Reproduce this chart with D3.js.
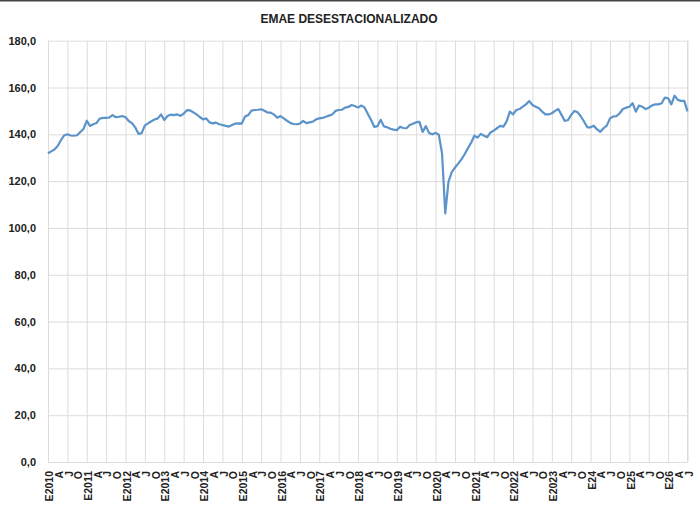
<!DOCTYPE html>
<html>
<head>
<meta charset="utf-8">
<script src="https://cdn.jsdelivr.net/npm/d3@7/dist/d3.min.js"></script>
<style>
  body { margin: 0; background: #fff; }
  text { font-family: "Liberation Sans", Arial, sans-serif; font-weight: bold; fill: #222; }
</style>
</head>
<body>
<script>
/******************************************************************************/
/* DATA                                                                       */
/******************************************************************************/
var title = "EMAE DESESTACIONALIZADO";

// one label every 3 months: E(nero), A(bril), J(ulio), O(ctubre)
var tickLabels = [
  "E2010","A","J","O","E2011","A","J","O","E2012","A","J","O",
  "E2013","A","J","O","E2014","A","J","O","E2015","A","J","O",
  "E2016","A","J","O","E2017","A","J","O","E2018","A","J","O",
  "E2019","A","J","O","E2020","A","J","O","E2021","A","J","O",
  "E2022","A","J","O","E2023","A","J","O","E24","A","J","O",
  "E25","A","J","O","E26","A","J"
];

var yTicks = [0, 20, 40, 60, 80, 100, 120, 140, 160, 180];

// monthly index
var values2010 = [131.9,132.7,133.5,135.0,137.5,139.5,140.0,139.5,139.4,139.6,141.0,142.3];
var values2011 = [145.8,143.6,144.3,144.8,146.7,147.0,147.0,147.2,148.2,147.3,147.5,147.8];
var values2012 = [147.3,145.7,144.8,143.0,140.2,140.5,143.8,144.7,145.6,146.3,146.8,148.5];
var values2013 = [146.1,147.8,148.4,148.2,148.5,147.9,148.8,150.3,150.2,149.4,148.5,147.4];
var values2014 = [146.4,146.8,145.1,144.7,145.0,144.3,144.0,143.6,143.3,144.0,144.6,144.7];
var values2015 = [144.6,147.6,148.2,150.1,150.4,150.5,150.7,150.1,149.3,149.3,148.4,147.1];
var values2016 = [147.8,146.8,145.8,144.9,144.4,144.3,144.6,145.7,144.8,145.1,145.4,146.4];
var values2017 = [146.8,147.0,147.5,148.0,148.5,150.0,150.4,150.5,151.4,151.7,152.5,152.1];
var values2018 = [151.4,152.3,151.5,148.8,146.2,143.2,143.5,146.2,143.4,143.0,142.4,142.0];
var values2019 = [141.8,143.2,142.7,142.6,144.0,144.5,145.2,145.3,141.0,143.5,140.5,140.0];
var values2020 = [140.6,139.8,131.9,106.2,119.8,123.8,125.8,127.5,129.3,131.5,134.0,136.4];
var values2021 = [139.4,138.6,140.2,139.4,138.8,140.8,141.6,142.6,143.6,143.3,145.5,149.7];
var values2022 = [148.5,150.4,150.8,151.8,152.8,154.2,152.5,151.8,151.1,149.7,148.5,148.5];
var values2023 = [149.0,150.0,150.8,148.3,145.7,146.1,148.3,150.0,149.4,147.6,145.4,143.0];
var values2024 = [143.0,143.7,142.1,141.1,142.6,143.7,146.8,147.6,147.8,149.0,150.8,151.4];
var values2025 = [151.8,153.3,149.7,152.3,151.8,150.8,151.4,152.3,152.8,152.8,153.3,155.7];
var values2026 = [155.4,152.8,156.5,154.7,154.3,154.3,149.8];

/******************************************************************************/
/* GLOBAL                                                                     */
/******************************************************************************/
var width  = 700;
var height = 509;
var plot = { left: 48, right: 687.5, top: 40.7, bottom: 462 };

var values = [].concat(values2010, values2011, values2012, values2013, values2014,
  values2015, values2016, values2017, values2018, values2019, values2020,
  values2021, values2022, values2023, values2024, values2025, values2026);

var x = d3.scaleLinear()
  .domain([0, values.length - 1])
  .range([plot.left, plot.right]);

var y = d3.scaleLinear()
  .domain([0, 180])
  .range([plot.bottom, plot.top]);

var fmt = function(d) { return d3.format(".1f")(d).replace(".", ","); };

/******************************************************************************/
/* RUNTIME                                                                    */
/******************************************************************************/
var svg = d3.select('body')
  .append('svg')
  .attr('width', width)
  .attr('height', height);

svg.append('rect')
  .attr('width', width)
  .attr('height', height)
  .attr('fill', '#fff');

// thin frame at the top of the screenshot
svg.append('rect')
  .attr('x', 0).attr('y', 0)
  .attr('width', width).attr('height', 1.5)
  .attr('fill', '#444');

// title
svg.append('text')
  .attr('x', 349)
  .attr('y', 22.5)
  .attr('text-anchor', 'middle')
  .style('font-size', '12px')
  .text(title);

// horizontal grid + y labels
var yAxis = svg.append('g')
  .attr('transform', 'translate(' + plot.left + ',0)')
  .call(d3.axisLeft(y)
    .tickValues(yTicks)
    .tickSize(-(plot.right - plot.left))
    .tickPadding(12)
    .tickFormat(fmt));
yAxis.select('.domain').remove();
yAxis.selectAll('line').attr('stroke', '#dcdcdc');
yAxis.selectAll('text')
  .style('font-size', '11px')
  .attr('fill', '#222');

// vertical grid every 6 months
var xGrid = svg.append('g')
  .attr('transform', 'translate(0,' + plot.bottom + ')')
  .call(d3.axisBottom(x)
    .tickValues(d3.range(0, values.length, 6))
    .tickSize(-(plot.bottom - plot.top))
    .tickFormat(''));
xGrid.select('.domain').remove();
xGrid.selectAll('line').attr('stroke', '#dcdcdc');

// right edge of the plot area
svg.append('line')
  .attr('x1', plot.right).attr('x2', plot.right)
  .attr('y1', plot.top).attr('y2', plot.bottom)
  .attr('stroke', '#dcdcdc');

// x labels, rotated
svg.append('g')
  .selectAll('text')
  .data(tickLabels)
  .enter()
  .append('text')
  .attr('transform', function(d, i) {
    return 'translate(' + (x(i * 3) + 1.5) + ',' + (plot.bottom + 9) + ') rotate(-90)';
  })
  .attr('text-anchor', 'end')
  .attr('dy', '0.35em')
  .style('font-size', '10.5px')
  .text(function(d) { return d; });

// the series
var line = d3.line()
  .x(function(d, i) { return x(i); })
  .y(function(d) { return y(d); });

svg.append('path')
  .datum(values)
  .attr('d', line)
  .attr('fill', 'none')
  .attr('stroke', '#5b93cb')
  .attr('stroke-width', 2.2)
  .attr('stroke-linejoin', 'round');
</script>
</body>
</html>
